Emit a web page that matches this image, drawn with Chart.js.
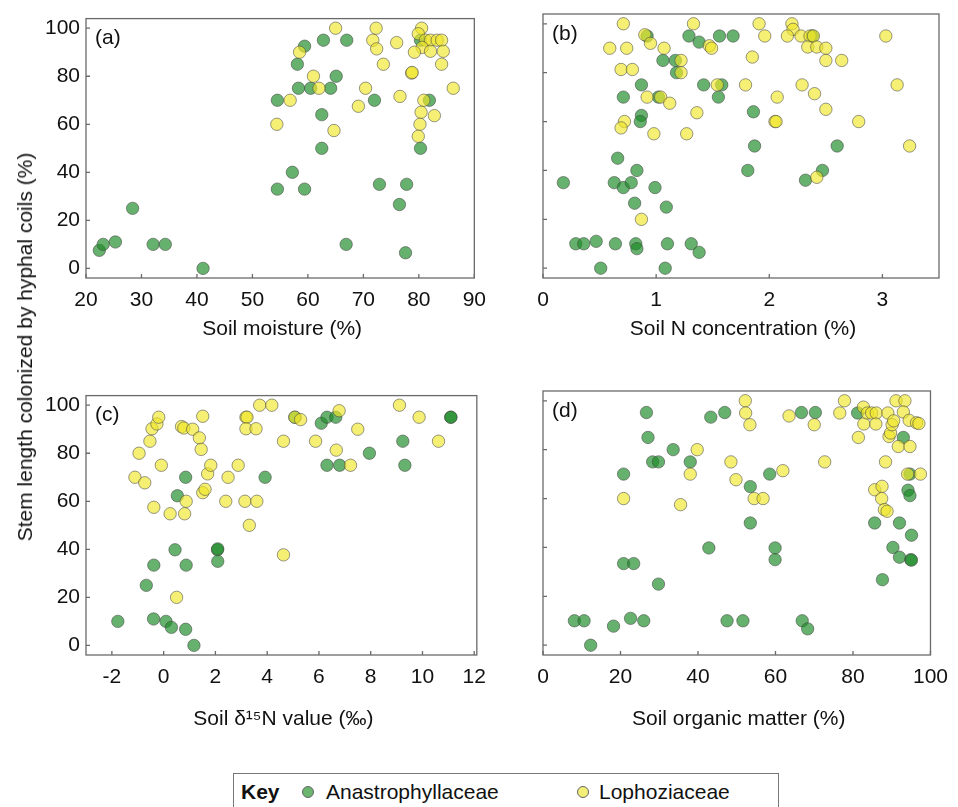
<!DOCTYPE html>
<html>
<head>
<meta charset="utf-8">
<script src="https://cdn.jsdelivr.net/npm/chart.js@4.4.1/dist/chart.umd.min.js"></script>
<style>
  body { margin: 0; background: #fff; width: 958px; height: 807px; overflow: hidden; position: relative;
         font-family: Arial, "Liberation Sans", sans-serif; color: #111; }
  canvas { position: absolute; }
  #yTitle { position: absolute; left: 25px; top: 347px; transform: translate(-50%, -50%) rotate(-90deg);
            white-space: nowrap; font-size: 21px; }
  #key { position: absolute; left: 233px; top: 773px; width: 546px; height: 50px; border: 1.5px solid #777;
         box-sizing: border-box; font-size: 21px; }
  #key span { position: absolute; top: 6px; white-space: nowrap; }
  #key .dot { width: 10px; height: 10px; border-radius: 50%; border: 1px solid #666; top: 12px; }
</style>
</head>
<body>
<canvas id="panelA" width="460" height="350" style="left:36px;top:0px"></canvas>
<canvas id="panelB" width="458" height="350" style="left:500px;top:0px"></canvas>
<canvas id="panelC" width="460" height="373" style="left:36px;top:377px"></canvas>
<canvas id="panelD" width="458" height="373" style="left:500px;top:377px"></canvas>
<div id="yTitle">Stem length colonized by hyphal coils (%)</div>
<div id="key">
  <span style="left:7px;font-weight:bold">Key</span>
  <span class="dot" style="left:68px;background:#6cb56f"></span>
  <span style="left:92px">Anastrophyllaceae</span>
  <span class="dot" style="left:343px;background:#f3ee78"></span>
  <span style="left:365px">Lophoziaceae</span>
</div>
<script>
// tick labels
const yTicks = [0, 20, 40, 60, 80, 100];
const aTicks = [20, 30, 40, 50, 60, 70, 80, 90];
const bTicks = [0, 1, 2, 3];
const cTicks = [-2, 0, 2, 4, 6, 8, 10, 12];
const dTicks = [0, 20, 40, 60, 80, 100];

// (a) soil moisture
const aGreenX = [22.4, 23.1, 25.3, 28.4, 32.1, 34.3, 41.1, 54.5, 54.5, 57.2, 59.4, 59.4, 58.1, 58.3, 60.5,
  64.1, 65.1, 62.5, 62.5, 62.8, 67.0, 66.9, 72.0, 72.9, 77.8, 76.5, 77.6, 80.3, 81.9, 80.3];
const aGreenY = [7.5, 10, 11, 25, 10, 10, 0, 70, 33, 40, 33, 92.5, 85, 75, 75,
  75, 80, 64, 50, 95, 95, 10, 70, 35, 35, 26.6, 6.5, 50, 70, 95];
const aYellowX = [65.0, 72.3, 80.5, 71.7, 76.0, 72.4, 79.9, 81.2, 82.1, 83.3, 84.1, 80.6, 79.2, 82.1, 84.4,
  84.1, 58.5, 73.6, 78.7, 78.8, 61.0, 62.0, 70.4, 86.2, 56.8, 76.6, 80.9, 69.1, 80.4, 82.8, 54.4, 80.2, 64.7, 79.9];
const aYellowY = [100, 100, 100, 95, 94, 91.4, 97.7, 95, 95, 95, 95, 92, 90, 90.4, 90.4,
  85, 90, 85, 81.3, 81.6, 80, 75, 75, 75, 70, 71.6, 70, 67.5, 65, 63.6, 60, 60, 57.4, 55];

// (b) soil N concentration
const bGreenX = [0.18, 0.29, 0.36, 0.47, 0.51, 0.64, 0.66, 0.63, 0.71, 0.78, 0.81, 0.83, 0.82, 0.83, 0.71,
  0.87, 0.87, 0.86, 0.92, 0.99, 1.09, 1.10, 1.08, 1.02, 1.06, 1.17, 1.18, 1.29, 1.38, 1.31,
  1.38, 1.42, 1.55, 1.56, 1.58, 1.68, 1.86, 1.87, 1.81, 2.38, 2.32, 2.47, 2.60];
const bGreenY = [35, 10, 10, 11, 0, 10, 45, 35, 33, 35, 26.6, 40, 10, 8, 70,
  75, 62.5, 60, 95, 33, 25, 10, 0, 70, 85, 85, 80, 95, 92.5, 10,
  6.5, 75, 70, 95, 75, 95, 64, 50, 40, 95, 36, 40, 50];
const bYellowX = [0.71, 1.33, 1.91, 2.20, 2.21, 0.90, 0.95, 0.59, 0.74, 1.07, 1.47, 1.49, 1.96, 2.16, 2.28,
  2.36, 2.39, 2.34, 2.42, 2.50, 3.03, 1.22, 1.22, 1.85, 2.50, 2.64, 0.69, 0.79, 1.54, 1.79,
  2.29, 3.13, 0.92, 1.04, 1.12, 2.07, 2.40, 1.36, 2.50, 0.72, 0.69, 2.05, 2.06, 2.79, 0.98,
  1.27, 3.24, 2.42, 0.87];
const bYellowY = [100, 100, 100, 100, 97.7, 95.5, 92, 90, 90, 90, 91, 90, 95, 95, 95,
  95, 95, 90.5, 90.5, 90, 95, 85, 80, 86.4, 85, 85, 81.3, 81.3, 75, 75,
  75, 75, 70, 70, 67.5, 70, 71.4, 63.6, 65, 60, 57.4, 60, 60, 60, 55,
  55, 50, 37.2, 20];

// (c) soil d15N
const cGreenX = [-1.77, -0.67, -0.38, -0.39, 0.09, 0.30, 0.44, 0.53, 0.85, 0.87, 0.85, 1.17, 2.08, 2.09, 2.09,
  3.92, 5.07, 6.09, 6.31, 6.65, 6.31, 6.80, 7.95, 9.24, 9.32, 11.09, 11.1];
const cGreenY = [10, 25, 33.4, 11, 10, 7.5, 39.8, 62.3, 70, 33.4, 6.7, 0, 39.8, 40.2, 35,
  70, 95, 92.5, 95, 95, 75, 75, 80, 85, 75, 95, 95];
const cYellowX = [-1.11, -0.95, -0.73, -0.53, -0.45, -0.26, -0.19, -0.09, -0.38, 0.25, 0.50, 0.69, 0.78, 1.12, 1.38,
  1.45, 1.51, 0.87, 0.81, 1.51, 1.60, 1.70, 1.82, 2.49, 2.40, 2.88, 3.14, 3.60, 3.31, 3.18,
  3.22, 3.18, 3.57, 3.71, 4.18, 4.63, 4.63, 5.07, 5.29, 5.87, 6.67, 6.78, 7.22, 7.50, 9.11,
  9.87, 10.62];
const cYellowY = [70, 80, 67.7, 85, 90.2, 92.2, 95, 75, 57.5, 54.8, 20, 91.1, 90.5, 90, 86.4,
  81.6, 95.4, 60, 54.8, 63.6, 65, 71.4, 75, 70, 60, 75, 60, 60, 50, 95,
  95, 90.2, 90.2, 100, 100, 85, 37.7, 95, 94, 85, 81.3, 97.7, 75, 90, 100,
  95, 85];

// (d) soil organic matter
const dGreenX = [8.1, 10.6, 12.3, 18.2, 20.8, 20.8, 23.4, 22.6, 26.0, 26.7, 27.1, 28.3, 29.8, 29.8, 33.6,
  38.0, 42.8, 43.3, 46.9, 47.5, 51.6, 53.5, 53.5, 58.5, 59.9, 59.9, 66.9, 68.3, 66.7, 70.3,
  81.2, 85.6, 87.6, 90.3, 92.0, 92.0, 93.0, 94.2, 94.7, 95.1, 94.9, 95.1, 94.7];
const dGreenY = [10, 10, 0, 7.8, 70, 33.4, 33.4, 11, 10, 95.2, 85, 75, 75, 25, 80,
  75, 39.8, 93.3, 95.2, 10, 10, 64.9, 50, 70, 39.8, 35, 10, 6.7, 95.2, 95.2,
  95, 50, 26.8, 40, 36, 50, 85, 63.4, 61.2, 45, 35, 34.8, 70];
const dYellowX = [20.8, 35.5, 38.0, 39.8, 48.5, 49.8, 52.2, 52.3, 53.4, 54.5, 56.8, 61.9, 63.5, 70.0, 72.7,
  76.6, 77.8, 81.4, 82.7, 82.8, 83.7, 84.8, 86.0, 85.9, 85.6, 87.5, 87.4, 88.1, 88.8, 88.4,
  89.0, 89.3, 89.7, 90.1, 90.5, 91.1, 93.4, 93.0, 91.7, 94.7, 94.5, 96.4, 97.0, 94.1, 97.4];
const dYellowY = [60, 57.5, 70, 80, 75, 67.7, 100, 95, 90.2, 60, 60, 71.4, 93.8, 90.2, 75,
  95, 100, 85, 97.4, 90.5, 95, 95, 95, 90.5, 63.6, 65, 60, 55.5, 54.8, 75,
  95, 85.4, 86.8, 90.2, 91.8, 100, 100, 95.4, 81.3, 81.3, 92, 91, 90.7, 70, 70];

const greenFill = 'rgba(30, 140, 40, 0.68)';
const yellowFill = 'rgba(240, 230, 40, 0.65)';
const edgeColor = 'rgba(70, 70, 70, 0.55)';
const fontSpec = { family: 'Arial, "Liberation Sans", sans-serif', size: 21 };

function zip(xs, ys) {
  return xs.map((x, i) => ({ x: x, y: ys[i] }));
}

// Box, inward tick marks, panel letter and x-axis title
const panelDeco = {
  id: 'panelDeco',
  afterDraw(chart, args, opts) {
    const { ctx, chartArea: a, scales } = chart;
    ctx.save();
    ctx.strokeStyle = '#6a6a6a';
    ctx.lineWidth = 1.3;
    ctx.strokeRect(a.left, a.top, a.right - a.left, a.bottom - a.top);
    ctx.beginPath();
    scales.x.ticks.forEach(t => {
      const px = scales.x.getPixelForValue(t.value);
      ctx.moveTo(px, a.bottom);
      ctx.lineTo(px, a.bottom - 4);
    });
    scales.y.ticks.forEach(t => {
      const py = scales.y.getPixelForValue(t.value);
      ctx.moveTo(a.left, py);
      ctx.lineTo(a.left + 4, py);
    });
    ctx.stroke();
    ctx.fillStyle = '#111';
    ctx.font = '21px Arial, "Liberation Sans", sans-serif';
    ctx.textBaseline = 'middle';
    ctx.textAlign = 'left';
    ctx.fillText(opts.label, a.left + 9, a.top + 20);
    ctx.textAlign = 'center';
    ctx.fillText(opts.title, (a.left + a.right) / 2 + 2, a.bottom + opts.titleGap);
    ctx.restore();
  }
};

function makePanel(id, p) {
  new Chart(document.getElementById(id), {
    type: 'scatter',
    data: {
      datasets: [
        { label: 'Lophoziaceae', data: zip(p.yellowX, p.yellowY), backgroundColor: yellowFill,
          borderColor: edgeColor, borderWidth: 1, pointRadius: 6.2 },
        { label: 'Anastrophyllaceae', data: zip(p.greenX, p.greenY), backgroundColor: greenFill,
          borderColor: edgeColor, borderWidth: 1, pointRadius: 6.2 }
      ]
    },
    options: {
      responsive: false,
      animation: false,
      devicePixelRatio: 1,
      layout: { padding: { top: 14, right: p.padRight, left: 0, bottom: 0 } },
      plugins: {
        legend: { display: false },
        tooltip: { enabled: false },
        panelDeco: { label: p.label, title: p.title, titleGap: p.titleGap }
      },
      scales: {
        x: {
          type: 'linear', min: p.xMin, max: p.xMax,
          afterBuildTicks: s => { s.ticks = p.xTicks.map(v => ({ value: v })); },
          afterFit: s => { s.height = p.xH; },
          grid: { display: false, drawTicks: false },
          border: { display: false },
          ticks: { font: fontSpec, color: '#111', padding: 10, maxRotation: 0, autoSkip: false }
        },
        y: {
          type: 'linear', min: -4, max: 104,
          afterBuildTicks: s => { s.ticks = yTicks.map(v => ({ value: v })); },
          afterFit: s => { s.width = p.yW; },
          grid: { display: false, drawTicks: false },
          border: { display: false },
          ticks: { display: p.yLabels, font: fontSpec, color: '#111', padding: 6 }
        }
      }
    },
    plugins: [panelDeco]
  });
}

makePanel('panelA', { label: '(a)', title: 'Soil moisture (%)', titleGap: 51,
  xMin: 20, xMax: 90, xTicks: aTicks, xH: 72, yW: 50, padRight: 12, yLabels: true,
  greenX: aGreenX, greenY: aGreenY, yellowX: aYellowX, yellowY: aYellowY });
makePanel('panelB', { label: '(b)', title: 'Soil N concentration (%)', titleGap: 51,
  xMin: 0, xMax: 3.5, xTicks: bTicks, xH: 72, yW: 43, padRight: 19, yLabels: false,
  greenX: bGreenX, greenY: bGreenY, yellowX: bYellowX, yellowY: bYellowY });
makePanel('panelC', { label: '(c)', title: 'Soil \u03B4\u00B9\u2075N value (\u2030)', titleGap: 64,
  xMin: -3, xMax: 12.1, xTicks: cTicks, xH: 95, yW: 50, padRight: 12, yLabels: true,
  greenX: cGreenX, greenY: cGreenY, yellowX: cYellowX, yellowY: cYellowY });
makePanel('panelD', { label: '(d)', title: 'Soil organic matter (%)', titleGap: 64,
  xMin: 0, xMax: 100, xTicks: dTicks, xH: 95, yW: 43, padRight: 19, yLabels: false,
  greenX: dGreenX, greenY: dGreenY, yellowX: dYellowX, yellowY: dYellowY });
</script>
</body>
</html>
